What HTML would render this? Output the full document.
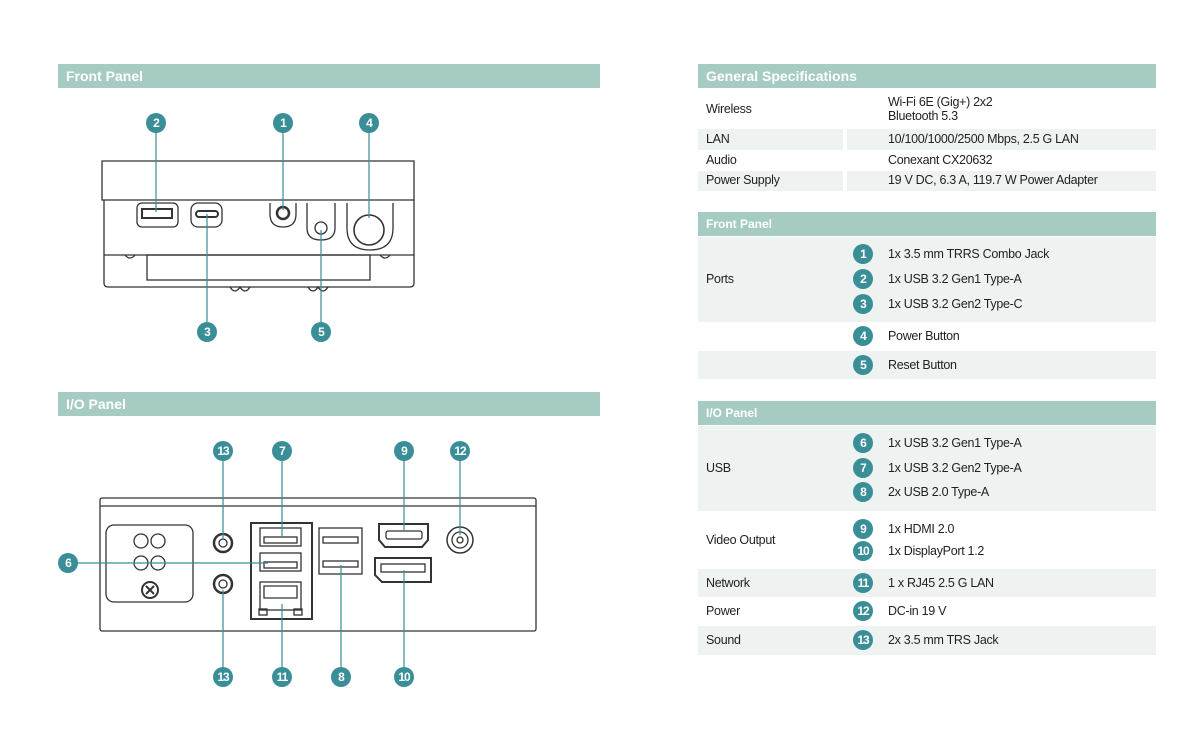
<!DOCTYPE html>
<html><head><meta charset="utf-8"><style>
body{margin:0;width:1200px;height:748px;background:#fff;position:relative;overflow:hidden;font-family:"Liberation Sans",sans-serif;color:#222}
.a{position:absolute}
.hd{position:absolute;background:#a6cbc2;color:#fff;font-weight:bold;box-sizing:border-box;padding-left:8px}
.st{position:absolute;background:#eef3f2}
.t{position:absolute;font-size:12.5px;letter-spacing:-0.3px;white-space:nowrap}
.b{position:absolute;width:20px;height:20px;border-radius:50%;background:#3a8e98;color:#fff;font-weight:bold;font-size:12px;text-align:center;line-height:20px;letter-spacing:-1px}
</style></head><body>
<div class="hd" style="left:58px;top:64px;width:542px;height:24px;font-size:14px;line-height:24px">Front Panel</div>
<div class="hd" style="left:58px;top:392px;width:542px;height:24px;font-size:14px;line-height:24px">I/O Panel</div>

<svg class="a" style="left:0;top:0" width="620" height="748" fill="none" stroke="#333" stroke-width="1.3">
<!-- front panel -->
<path d="M102 161 H414 V200 H102 Z"/>
<path d="M104 200 V283 Q104 287 108 287 H410 Q414 287 414 283 V200"/>
<line x1="104" y1="255" x2="414" y2="255"/>
<rect x="147" y="255" width="223" height="25"/>
<path d="M230 287 q5 8 10 0 q5 8 10 0 M308 287 q5 8 10 0 q5 8 10 0"/>
<path d="M125 255 q5 6 10 0 M380 255 q5 6 10 0"/>
<rect x="137" y="203" width="41" height="24" rx="5"/>
<rect x="142" y="209" width="30" height="9" stroke-width="2"/>
<rect x="191" y="203" width="31" height="24" rx="7"/>
<rect x="196" y="211" width="22" height="6" rx="3" stroke-width="2"/>
<path d="M270 203 V214 Q270 227 283 227 Q296 227 296 214 V203"/>
<circle cx="283" cy="213" r="6" stroke-width="2.5"/>
<path d="M307 203 V228 Q307 240 321 240 Q335 240 335 228 V203"/>
<circle cx="321" cy="228" r="6"/>
<path d="M347 203 V228 Q347 250 370 250 Q393 250 393 228 V203"/>
<circle cx="369" cy="230" r="15" stroke-width="1.6"/>
<g stroke="#3a8e98" stroke-width="1.2">
<line x1="156" y1="123" x2="156" y2="212"/><line x1="283" y1="123" x2="283" y2="210"/><line x1="369" y1="123" x2="369" y2="218"/>
<line x1="207" y1="214" x2="207" y2="332"/><line x1="321" y1="230" x2="321" y2="332"/>
</g>
<!-- io panel -->
<rect x="100" y="498" width="436" height="133" rx="2"/>
<line x1="100" y1="506" x2="536" y2="506"/>
<rect x="106" y="525" width="87" height="77" rx="8"/>
<circle cx="141" cy="541" r="7"/><circle cx="158" cy="541" r="7"/><circle cx="141" cy="563" r="7"/><circle cx="158" cy="563" r="7"/>
<circle cx="150" cy="590" r="8" stroke-width="2"/><path d="M146 586 l8 8 M154 586 l-8 8" stroke-width="2"/>
<circle cx="223" cy="543" r="9" stroke-width="2.5"/><circle cx="223" cy="543" r="4"/>
<circle cx="223" cy="584" r="9" stroke-width="2.5"/><circle cx="223" cy="584" r="4"/>
<rect x="251" y="523" width="61" height="96" stroke-width="2"/>
<rect x="260" y="528" width="41" height="18"/><rect x="264" y="537" width="33" height="6"/>
<rect x="260" y="553" width="41" height="18"/><rect x="264" y="562" width="33" height="6"/>
<rect x="260" y="582" width="41" height="28"/><path d="M264 586 h33 v12 h-33 z" />
<rect x="259" y="609" width="8" height="6"/><rect x="294" y="609" width="8" height="6"/>
<rect x="319" y="528" width="43" height="46"/>
<rect x="323" y="537" width="35" height="6"/><rect x="323" y="561" width="35" height="6"/>
<path d="M379 524 H428 V540 L422 547 H385 L379 540 Z" stroke-width="2"/>
<rect x="386" y="531" width="36" height="8" rx="2"/>
<path d="M375 558 H431 V582 H382 L375 575 Z" stroke-width="2"/>
<rect x="381" y="564" width="44" height="8"/>
<circle cx="460" cy="540" r="13" stroke-width="1.5"/><circle cx="460" cy="540" r="8"/><circle cx="460" cy="540" r="3"/>
<g stroke="#3a8e98" stroke-width="1.2">
<line x1="223" y1="451" x2="223" y2="540"/><line x1="282" y1="451" x2="282" y2="537"/><line x1="404" y1="451" x2="404" y2="530"/><line x1="460" y1="451" x2="460" y2="535"/>
<line x1="68" y1="563" x2="268" y2="563"/>
<line x1="223" y1="590" x2="223" y2="677"/><line x1="282" y1="604" x2="282" y2="677"/><line x1="341" y1="565" x2="341" y2="677"/><line x1="404" y1="570" x2="404" y2="677"/>
</g>
</svg>
<div class="b" style="left:146px;top:113px">2</div><div class="b" style="left:273px;top:113px">1</div><div class="b" style="left:359px;top:113px">4</div>
<div class="b" style="left:197px;top:322px">3</div><div class="b" style="left:311px;top:322px">5</div>
<div class="b" style="left:213px;top:441px">13</div><div class="b" style="left:272px;top:441px">7</div><div class="b" style="left:394px;top:441px">9</div><div class="b" style="left:450px;top:441px">12</div>
<div class="b" style="left:58px;top:553px">6</div>
<div class="b" style="left:213px;top:667px">13</div><div class="b" style="left:272px;top:667px">11</div><div class="b" style="left:331px;top:667px">8</div><div class="b" style="left:394px;top:667px">10</div>

<!-- right tables -->
<div class="hd" style="left:698px;top:64px;width:458px;height:24px;font-size:14px;line-height:24px">General Specifications</div>
<div class="t" style="left:706px;top:102px">Wireless</div>
<div class="t" style="left:888px;top:95px;line-height:14px">Wi-Fi 6E (Gig+) 2x2<br>Bluetooth 5.3</div>
<div class="st" style="left:698px;top:129px;width:145px;height:21px"></div><div class="st" style="left:847px;top:129px;width:309px;height:21px"></div>
<div class="t" style="left:706px;top:132px">LAN</div><div class="t" style="left:888px;top:132px">10/100/1000/2500 Mbps, 2.5 G LAN</div>
<div class="t" style="left:706px;top:153px">Audio</div><div class="t" style="left:888px;top:153px">Conexant CX20632</div>
<div class="st" style="left:698px;top:171px;width:145px;height:20px"></div><div class="st" style="left:847px;top:171px;width:309px;height:20px"></div>
<div class="t" style="left:706px;top:173px">Power Supply</div><div class="t" style="left:888px;top:173px">19 V DC, 6.3 A, 119.7 W Power Adapter</div>

<div class="hd" style="left:698px;top:212px;width:458px;height:24px;font-size:12px;line-height:24px">Front Panel</div>
<div class="st" style="left:698px;top:237px;width:458px;height:85px"></div>
<div class="st" style="left:698px;top:351px;width:458px;height:28px"></div>
<div class="t" style="left:706px;top:272px">Ports</div>
<div class="b" style="left:853px;top:244px">1</div><div class="t" style="left:888px;top:247px">1x 3.5 mm TRRS Combo Jack</div>
<div class="b" style="left:853px;top:269px">2</div><div class="t" style="left:888px;top:272px">1x USB 3.2 Gen1 Type-A</div>
<div class="b" style="left:853px;top:294px">3</div><div class="t" style="left:888px;top:297px">1x USB 3.2 Gen2 Type-C</div>
<div class="b" style="left:853px;top:326px">4</div><div class="t" style="left:888px;top:329px">Power Button</div>
<div class="b" style="left:853px;top:355px">5</div><div class="t" style="left:888px;top:358px">Reset Button</div>

<div class="hd" style="left:698px;top:401px;width:458px;height:24px;font-size:12px;line-height:24px">I/O Panel</div>
<div class="st" style="left:698px;top:426px;width:458px;height:85px"></div>
<div class="st" style="left:698px;top:569px;width:458px;height:28px"></div>
<div class="st" style="left:698px;top:626px;width:458px;height:29px"></div>
<div class="t" style="left:706px;top:461px">USB</div>
<div class="b" style="left:853px;top:433px">6</div><div class="t" style="left:888px;top:436px">1x USB 3.2 Gen1 Type-A</div>
<div class="b" style="left:853px;top:458px">7</div><div class="t" style="left:888px;top:461px">1x USB 3.2 Gen2 Type-A</div>
<div class="b" style="left:853px;top:482px">8</div><div class="t" style="left:888px;top:485px">2x USB 2.0 Type-A</div>
<div class="t" style="left:706px;top:533px">Video Output</div>
<div class="b" style="left:853px;top:519px">9</div><div class="t" style="left:888px;top:522px">1x HDMI 2.0</div>
<div class="b" style="left:853px;top:541px">10</div><div class="t" style="left:888px;top:544px">1x DisplayPort 1.2</div>
<div class="t" style="left:706px;top:576px">Network</div><div class="b" style="left:853px;top:573px">11</div><div class="t" style="left:888px;top:576px">1 x RJ45 2.5 G LAN</div>
<div class="t" style="left:706px;top:604px">Power</div><div class="b" style="left:853px;top:601px">12</div><div class="t" style="left:888px;top:604px">DC-in 19 V</div>
<div class="t" style="left:706px;top:633px">Sound</div><div class="b" style="left:853px;top:630px">13</div><div class="t" style="left:888px;top:633px">2x 3.5 mm TRS Jack</div>
</body></html>
